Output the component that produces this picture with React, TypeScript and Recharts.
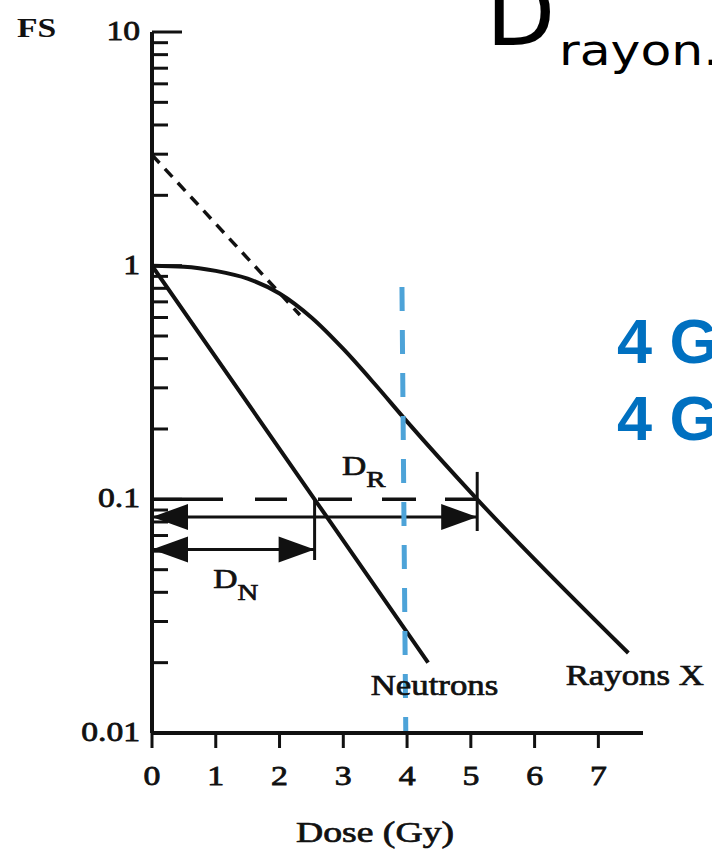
import { ComposedChart, Line, XAxis, YAxis, ReferenceDot } from 'recharts';

// Survival fraction (FS, log scale) against dose in Gy
const DOSE_TICKS = [0, 1, 2, 3, 4, 5, 6, 7];
const FS_TICKS = [
  0.01, 0.02, 0.03, 0.04, 0.05, 0.06, 0.07, 0.08, 0.09,
  0.1, 0.2, 0.3, 0.4, 0.5, 0.6, 0.7, 0.8, 0.9,
  1, 2, 3, 4, 5, 6, 7, 8, 9,
  10,
];
const FS_DECADES = [0.01, 0.1, 1, 10];
const FS_DECADE_LABELS = ['0.01', '0.1', '1', '10'];

// X-ray curve (shouldered) and neutron curve
const XRAY_DOSE = [0, 0.5, 1, 1.5, 2, 2.5, 3, 3.5, 4, 5.1, 7.47];
const XRAY_FS = [1.0, 0.99, 0.95, 0.88, 0.76, 0.6, 0.44, 0.31, 0.215, 0.1, 0.022];
const NEUTRON_DOSE = [0, 2.55, 4.33];
const NEUTRON_FS = [1.0, 0.1, 0.02];

// extrapolated straight part of the X-ray curve back to the FS axis
const TANGENT_DOSE = [0, 2.32];
const TANGENT_FS = [2.98, 0.615];

// isoeffect level and the doses that reach it
const ISO_FS = 0.1;
const D_NEUTRON = 2.55;
const D_XRAY = 5.1;
const ARROW_R_FS = 0.084;
const ARROW_N_FS = 0.061;
const MARK_R_FS = [0.131, 0.0732];
const MARK_N_FS = [0.1, 0.055];

// 4 Gy reference line
const REF_DOSE = [3.92, 3.98];
const REF_FS = [0.81, 0.01];

const INK = '#111';
const BLUE = '#4da3d8';
const SERIF = '"Liberation Serif", "Times New Roman", serif';

const pts = (xs: number[], ys: number[]) => xs.map((d, i) => ({ dose: d, fs: ys[i] }));

const xrayData = pts(XRAY_DOSE, XRAY_FS);
const neutronData = pts(NEUTRON_DOSE, NEUTRON_FS);
const tangentData = pts(TANGENT_DOSE, TANGENT_FS);
const isoData = pts([0, D_XRAY], [ISO_FS, ISO_FS]);
const arrowRData = pts([0, D_XRAY], [ARROW_R_FS, ARROW_R_FS]);
const arrowNData = pts([0, D_NEUTRON], [ARROW_N_FS, ARROW_N_FS]);
const markRData = pts([D_XRAY, D_XRAY], MARK_R_FS);
const markNData = pts([D_NEUTRON, D_NEUTRON], MARK_N_FS);
const refData = pts(REF_DOSE, REF_FS);

function FsTick(props: any) {
  const { x, y, payload } = props;
  const idx = FS_DECADES.indexOf(payload.value);
  const major = idx >= 0;
  return (
    <g>
      <line x1={x} x2={x + (major ? 30 : 16)} y1={y} y2={y} stroke={INK} strokeWidth={3} />
      {major && (
        <text
          transform={`translate(${x - 12},${y + 8}) scale(1.2,1)`}
          textAnchor="end"
          fontFamily={SERIF}
          fontSize={28}
          fill={INK}
          stroke={INK}
          strokeWidth={0.8}
        >
          {FS_DECADE_LABELS[idx]}
        </text>
      )}
    </g>
  );
}

function DoseTick(props: any) {
  const { x, y, payload } = props;
  return (
    <text
      transform={`translate(${x},${y + 37}) scale(1.25,1)`}
      textAnchor="middle"
      fontFamily={SERIF}
      fontSize={27}
      fill={INK}
      stroke={INK}
      strokeWidth={0.8}
    >
      {payload.value}
    </text>
  );
}

// filled arrowheads: first point points left, last point points right
function ArrowHead(props: any) {
  const { cx, cy, index } = props;
  const dir = index === 0 ? 1 : -1;
  const len = 36;
  const half = 13;
  return (
    <polygon
      key={`ah-${index}`}
      points={`${cx},${cy} ${cx + dir * len},${cy - half} ${cx + dir * len},${cy + half}`}
      fill={INK}
    />
  );
}

function label(text: string, sub?: string, anchor: 'start' | 'middle' = 'middle') {
  return (p: any) => (
    <text
      transform={`translate(${p.cx},${p.cy}) scale(1.2,1)`}
      textAnchor={anchor}
      fontFamily={SERIF}
      fontSize={sub ? 28 : 29}
      fill={INK}
      stroke={INK}
      strokeWidth={0.7}
    >
      {text}
      {sub && (
        <tspan dy={12} fontSize={24}>
          {sub}
        </tspan>
      )}
    </text>
  );
}

export default function App() {
  const line = { stroke: INK, dot: false, activeDot: false, isAnimationActive: false } as const;
  return (
    <div style={{ position: 'absolute', left: 0, top: 0, width: 712, height: 852, overflow: 'hidden', background: '#fff' }}>
      <ComposedChart width={712} height={852} margin={{ top: 32, right: 69, bottom: 0, left: 0 }}>
        <XAxis
          type="number"
          dataKey="dose"
          domain={[0, 7.7]}
          allowDataOverflow
          ticks={DOSE_TICKS}
          interval={0}
          height={119}
          tickSize={15}
          tickMargin={0}
          axisLine={{ stroke: INK, strokeWidth: 4 }}
          tickLine={{ stroke: INK, strokeWidth: 3 }}
          tick={<DoseTick />}
        />
        <YAxis
          type="number"
          dataKey="fs"
          scale="log"
          domain={[0.01, 10]}
          allowDataOverflow
          ticks={FS_TICKS}
          interval={0}
          width={152}
          tickSize={0}
          tickMargin={0}
          axisLine={{ stroke: INK, strokeWidth: 4 }}
          tickLine={false}
          tick={<FsTick />}
        />

        <Line {...line} data={tangentData} dataKey="fs" type="linear" strokeWidth={3.5} strokeDasharray="11 8" />
        <Line {...line} data={isoData} dataKey="fs" type="linear" strokeWidth={3.5} strokeDasharray="71 32 32 31 34 30 34 29 34" />
        <Line {...line} data={arrowRData} dataKey="fs" type="linear" strokeWidth={3} dot={<ArrowHead />} />
        <Line {...line} data={arrowNData} dataKey="fs" type="linear" strokeWidth={3} dot={<ArrowHead />} />
        <Line {...line} data={markRData} dataKey="fs" type="linear" strokeWidth={3} />
        <Line {...line} data={markNData} dataKey="fs" type="linear" strokeWidth={3} />
        <Line {...line} data={xrayData} dataKey="fs" type="monotone" strokeWidth={4} />
        <Line {...line} data={neutronData} dataKey="fs" type="linear" strokeWidth={4} />
        <Line {...line} data={refData} dataKey="fs" type="linear" stroke={BLUE} strokeWidth={5} strokeDasharray="24 19" />

        <ReferenceDot x={2.98} y={0.127} r={0} shape={label('D', 'R', 'start')} />
        <ReferenceDot x={0.96} y={0.0418} r={0} shape={label('D', 'N', 'start')} />
        <ReferenceDot x={4.43} y={0.0146} r={0} shape={label('Neutrons')} />
        <ReferenceDot x={7.57} y={0.016} r={0} shape={label('Rayons X')} />
      </ComposedChart>

      <svg width={712} height={852} style={{ position: 'absolute', left: 0, top: 0, pointerEvents: 'none' }}>
        <text transform="translate(17,37) scale(1.2,1)" fontFamily={SERIF} fontWeight="bold" fontSize={28} fill={INK}>
          FS
        </text>
        <text transform="translate(375,842) scale(1.3,1)" textAnchor="middle" fontFamily={SERIF} fontSize={29} fill={INK} stroke={INK} strokeWidth={0.7}>
          Dose (Gy)
        </text>
        <text x={486} y={45} fontFamily='"DejaVu Sans", sans-serif' fontSize={90} fill="#000">
          D
        </text>
        <text transform="translate(559,65) scale(1.2,1)" fontFamily='"DejaVu Sans", sans-serif' fontSize={42} fill="#000">
          rayon.
        </text>
        <text x={617} y={363} fontFamily='"Liberation Sans", Arial, sans-serif' fontWeight="bold" fontSize={63} fill="#0070C0">
          4 G
        </text>
        <text x={617} y={440} fontFamily='"Liberation Sans", Arial, sans-serif' fontWeight="bold" fontSize={63} fill="#0070C0">
          4 G
        </text>
      </svg>
    </div>
  );
}
